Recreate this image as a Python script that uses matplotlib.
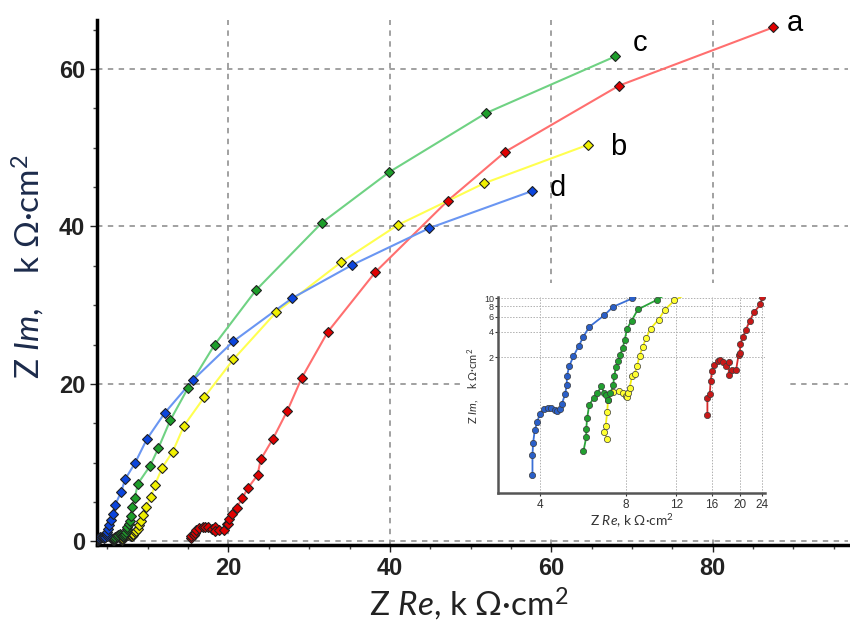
import matplotlib
matplotlib.use("Agg")
import matplotlib.pyplot as plt
from matplotlib.patches import Rectangle
from matplotlib.ticker import FixedLocator, MultipleLocator, NullLocator

plt.rcParams['font.family'] = ['Liberation Sans', 'DejaVu Sans']
plt.rcParams['mathtext.fontset'] = 'custom'
plt.rcParams['mathtext.rm'] = 'Lato'
plt.rcParams['mathtext.it'] = 'Lato:italic'
plt.rcParams['mathtext.bf'] = 'Lato:bold'

# Nyquist data, Z Re / Z Im in kOhm*cm2 (low-frequency part)
a_re = [15.4, 15.4, 15.7, 15.8, 16.0, 16.3, 16.8, 17.1, 17.5, 17.9, 18.3, 18.3,
        18.8, 19.4, 19.8, 20.0, 20.1, 20.5, 21.0, 21.7, 22.4, 23.6, 24.0, 25.5,
        27.3, 29.1, 32.3, 38.2, 47.2, 54.3, 68.4, 87.5]
a_im = [0.42, 0.66, 0.74, 1.04, 1.39, 1.64, 1.83, 1.86, 1.76, 1.59, 1.76, 1.25,
        1.43, 1.41, 2.15, 2.23, 2.88, 3.48, 4.25, 5.44, 6.76, 8.4, 10.4, 13.0,
        16.6, 20.8, 26.6, 34.2, 43.3, 49.5, 57.9, 65.3]

b_re = [6.86, 6.71, 6.78, 6.87, 6.91, 7.2, 7.54, 7.81, 7.96, 8.06, 8.13, 8.22,
        8.4, 8.56, 8.74, 8.91, 9.13, 9.4, 9.74, 10.4, 10.9, 11.8, 13.1, 14.5,
        17.0, 20.6, 25.9, 34.0, 41.0, 51.7, 64.6]
b_im = [0.218, 0.266, 0.307, 0.458, 0.624, 0.791, 0.806, 0.756, 0.71, 0.678, 0.756, 0.867,
        1.22, 1.27, 1.59, 2.09, 2.63, 3.39, 4.37, 5.59, 7.21, 9.37, 11.4, 14.7,
        18.3, 23.1, 29.1, 35.5, 40.2, 45.5, 50.4]

c_re = [5.67, 5.8, 5.8, 5.84, 5.94, 6.15, 6.35, 6.53, 6.71, 6.82, 6.93, 7.04,
        7.21, 7.27, 7.37, 7.49, 7.62, 7.78, 7.91, 8.06, 8.37, 8.79, 10.3, 11.3,
        12.8, 15.0, 18.3, 23.4, 31.6, 39.9, 51.9, 67.9]
c_im = [0.157, 0.228, 0.286, 0.382, 0.55, 0.66, 0.756, 0.907, 0.77, 0.72, 0.63, 0.756,
        0.95, 1.22, 1.52, 1.79, 2.15, 2.58, 3.24, 4.37, 5.44, 7.34, 9.6, 11.8,
        15.4, 19.5, 25.0, 31.9, 40.5, 46.9, 54.4, 61.6]

d_re = [3.76, 3.76, 3.78, 3.83, 3.91, 3.99, 4.14, 4.27, 4.37, 4.51, 4.6, 4.7,
        4.76, 4.89, 4.96, 4.96, 5.06, 5.23, 5.45, 5.67, 5.94, 6.71, 7.2, 8.4,
        9.9, 12.1, 15.6, 20.6, 27.9, 35.3, 44.9, 57.6]
d_im = [0.081, 0.143, 0.197, 0.278, 0.349, 0.434, 0.493, 0.511, 0.511, 0.484, 0.467, 0.493,
        0.56, 0.736, 0.949, 1.19, 1.59, 2.05, 2.7, 3.51, 4.57, 6.29, 7.89, 9.9,
        13.0, 16.3, 20.5, 25.4, 30.9, 35.1, 39.8, 44.5]

labels = ['a', 'b', 'c', 'd']
label_pos = [(90.2, 65.8), (68.3, 50.1), (71.0, 63.3), (60.8, 44.9)]

series = [(a_re, a_im), (b_re, b_im), (c_re, c_im), (d_re, d_im)]
line_colors = ['#ff6f6f', '#ffff50', '#6fd283', '#6a96f2']
marker_colors = ['#e00000', '#f0f000', '#1d9e2a', '#0b45dd']
inset_line_colors = ['#d42a2a', '#f2ee10', '#2aa33a', '#3a6fd6']
inset_marker_colors = ['#c81818', '#ffff30', '#22a030', '#2a5fc8']

fig = plt.figure(figsize=(8.5, 6.34), dpi=100)

# ---- main Nyquist plot
ax = fig.add_axes([0.114, 0.140, 0.884, 0.828])
for (xs, ys), lc, mc in zip(series, line_colors, marker_colors):
    ax.plot(xs, ys, '-', color=lc, lw=1.5, zorder=3)
    ax.plot(xs, ys, 'D', ms=5.3, mfc=mc, mec='#202020', mew=0.8, zorder=4)

for lab, (lx, ly) in zip(labels, label_pos):
    ax.text(lx, ly, lab, fontsize=21, ha='center', va='center', color='black')

ax.set_xlim(3.7, 96.8)
ax.set_ylim(-0.5, 66.2)
ax.xaxis.set_major_locator(FixedLocator([20, 40, 60, 80]))
ax.yaxis.set_major_locator(FixedLocator([0, 20, 40, 60]))
ax.xaxis.set_minor_locator(MultipleLocator(5))
ax.yaxis.set_minor_locator(MultipleLocator(5))
ax.grid(True, which='major', color='#9a9a9a', lw=1.3, ls=(0, (3, 3)))
ax.set_axisbelow(True)
for s in ['top', 'right']:
    ax.spines[s].set_visible(False)
for s in ['left', 'bottom']:
    ax.spines[s].set_linewidth(2.5)
ax.tick_params(which='major', length=5, width=1, labelsize=17, colors='#222222')
ax.tick_params(which='minor', length=3, width=1, colors='#444444')
for t in ax.get_xticklabels() + ax.get_yticklabels():
    t.set_fontweight('bold')

ax.set_xlabel('Z $\\mathit{Re}$, k Ω·cm$^2$', fontsize=24,
              family=['Lato', 'DejaVu Sans'], color='#222222')
ax.xaxis.set_label_coords(0.495, -0.078)
ax.set_ylabel('Z $\\mathit{Im}$,    k Ω·cm$^2$', fontsize=24,
              family=['Lato', 'DejaVu Sans'], color='#1c2b4b')
ax.yaxis.set_label_coords(-0.066, 0.53)

# white box behind the inset
fig.add_artist(Rectangle((0.547, 0.156), 0.376, 0.397, transform=fig.transFigure,
                         facecolor='white', edgecolor='none', zorder=1))

# ---- inset, log-log view of the low-frequency region
axi = fig.add_axes([0.586, 0.222, 0.314, 0.309], zorder=2)
for (xs, ys), lc, mc in zip(series, inset_line_colors, inset_marker_colors):
    axi.plot(xs, ys, '-', color=lc, lw=1.3, zorder=3)
    axi.plot(xs, ys, 'o', ms=4.5, mfc=mc, mec='#3a3a3a', mew=0.5, zorder=4)

axi.set_xscale('log')
axi.set_yscale('log')
axi.set_xlim(2.85, 24.5)
axi.set_ylim(0.05, 10.2)
axi.xaxis.set_major_locator(FixedLocator([4, 8, 12, 16, 20, 24]))
axi.yaxis.set_major_locator(FixedLocator([2, 4, 6, 8, 10]))
axi.xaxis.set_minor_locator(NullLocator())
axi.yaxis.set_minor_locator(NullLocator())
axi.set_xticklabels(['4', '8', '12', '16', '20', '24'])
axi.set_yticklabels(['2', '4', '6', '8', '10'])
axi.grid(True, which='major', color='#b0b0b0', lw=0.7, ls=(0, (1.5, 1.5)))
axi.set_axisbelow(True)
for s in ['top', 'right']:
    axi.spines[s].set_visible(False)
for s in ['left', 'bottom']:
    axi.spines[s].set_linewidth(1.8)
    axi.spines[s].set_color('#555555')
axi.tick_params(axis='x', length=2, width=0.8, labelsize=8.5, colors='#333333', pad=2)
axi.tick_params(axis='y', length=2, width=0.8, labelsize=6.5, colors='#333333', pad=1)
axi.set_xlabel('Z $\\mathit{Re}$, k Ω·cm$^2$', fontsize=10,
               family=['Lato', 'DejaVu Sans'], color='#333333')
axi.xaxis.set_label_coords(0.5, -0.1)
axi.set_ylabel('Z $\\mathit{Im}$,    k Ω·cm$^2$', fontsize=8,
               family=['Lato', 'DejaVu Sans'], color='#333333')
axi.yaxis.set_label_coords(-0.065, 0.55)

fig.savefig('out.png', dpi=100)
